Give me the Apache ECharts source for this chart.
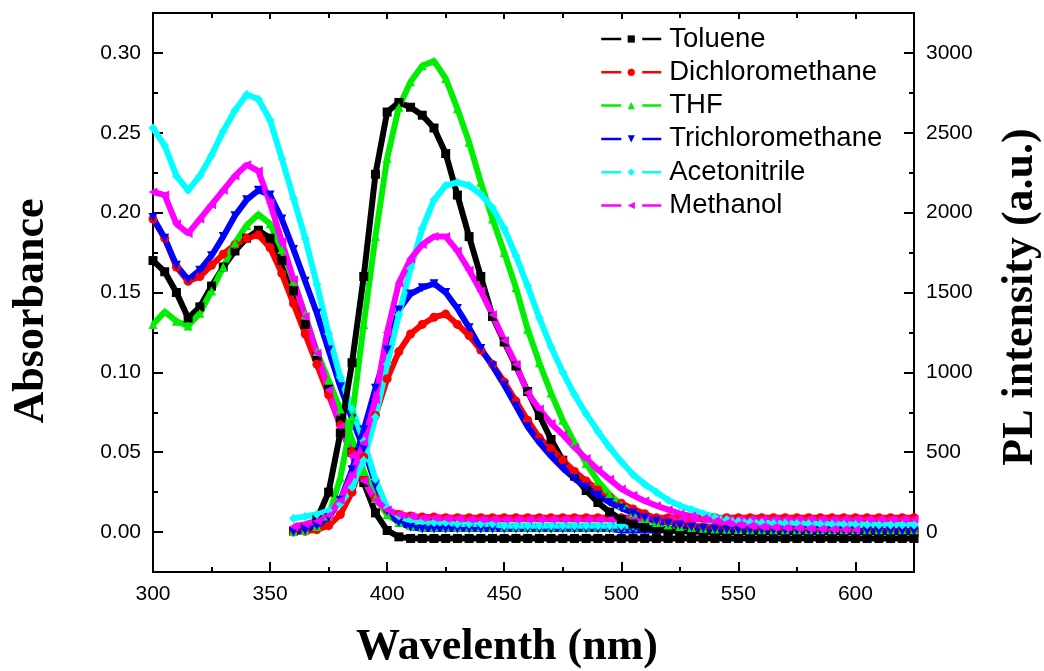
<!DOCTYPE html>
<html><head><meta charset="utf-8">
<script src="https://cdn.jsdelivr.net/npm/echarts@6/dist/echarts.min.js"></script>
<style>html,body{margin:0;padding:0;background:#fff}#c{width:1044px;height:671px}</style>
</head><body><div id="c"></div>
<script>
// ---------- data ----------
const solvents = ['Toluene','Dichloromethane','THF','Trichloromethane','Acetonitrile','Methanol'];

const absWl = [300,305,310,315,320,325,330,335,340,345,350,355,360,365,370,375,380,385,390,395,
  400,405,410,415,420,425,430,435,440,445,450,455,460,465,470,475,480,485,490,495,
  500,505,510,515,520,525,530,535,540,545,550,555,560,565,570,575,580,585,590,595,
  600,605,610,615,620,625];

const absToluene = [0.170,0.163,0.150,0.134,0.141,0.154,0.166,0.176,0.184,0.189,
  0.184,0.170,0.151,0.130,0.110,0.090,0.070,0.050,0.031,0.012,
  0.001,-0.003,-0.004,-0.004,-0.004,-0.004,-0.004,-0.004,-0.004,-0.004,
  -0.004,-0.004,-0.004,-0.004,-0.004,-0.004,-0.004,-0.004,-0.004,-0.004,
  -0.004,-0.004,-0.004,-0.004,-0.004,-0.004,-0.004,-0.004,-0.004,-0.004,
  -0.004,-0.004,-0.004,-0.004,-0.004,-0.004,-0.004,-0.004,-0.004,-0.004,
  -0.004,-0.004,-0.004,-0.004,-0.004,-0.004];
const absDCM = [0.196,0.184,0.166,0.157,0.160,0.167,0.174,0.180,0.184,0.186,
  0.178,0.162,0.143,0.124,0.105,0.086,0.067,0.050,0.034,0.021,
  0.014,0.011,0.010,0.0095,0.0095,0.009,0.009,0.009,0.009,0.009,
  0.009,0.009,0.009,0.009,0.009,0.009,0.009,0.009,0.009,0.009,
  0.009,0.009,0.009,0.009,0.009,0.009,0.009,0.009,0.009,0.009,
  0.009,0.009,0.009,0.009,0.009,0.009,0.009,0.009,0.009,0.009,
  0.009,0.009,0.009,0.009,0.009,0.009];
const absTHF = [0.130,0.138,0.132,0.129,0.137,0.151,0.166,0.181,0.192,0.199,
  0.193,0.177,0.157,0.136,0.113,0.095,0.077,0.058,0.038,0.021,
  0.011,0.006,0.004,0.003,0.003,0.003,0.003,0.003,0.003,0.003,
  0.003,0.003,0.003,0.003,0.003,0.003,0.003,0.003,0.003,0.003,
  0.003,0.003,0.003,0.003,0.003,0.003,0.003,0.003,0.003,0.003,
  0.003,0.003,0.003,0.003,0.003,0.003,0.003,0.003,0.003,0.003,
  0.003,0.003,0.003,0.003,0.003,0.003];
const absTCM = [0.197,0.184,0.167,0.158,0.164,0.173,0.185,0.198,0.208,0.214,
  0.211,0.196,0.177,0.157,0.137,0.114,0.091,0.071,0.052,0.030,
  0.013,0.006,0.003,0.002,0.002,0.002,0.002,0.002,0.002,0.002,
  0.002,0.002,0.002,0.002,0.002,0.002,0.002,0.002,0.002,0.002,
  0.001,0.001,0.001,0.001,0.001,0.001,0.001,0.001,0.001,0.001,
  0.001,0.001,0.001,0.001,0.001,0.001,0.001,0.001,0.001,0.001,
  0.001,0.001,0.001,0.001,0.001,0.001];
const absACN = [0.253,0.242,0.223,0.214,0.223,0.236,0.251,0.264,0.274,0.271,
  0.258,0.234,0.209,0.184,0.155,0.124,0.097,0.077,0.057,0.033,
  0.015,0.010,0.008,0.007,0.006,0.006,0.005,0.005,0.005,0.005,
  0.004,0.004,0.004,0.004,0.004,0.004,0.004,0.004,0.004,0.004,
  0.004,0.004,0.004,0.004,0.004,0.004,0.004,0.004,0.004,0.004,
  0.004,0.004,0.004,0.004,0.004,0.004,0.004,0.004,0.004,0.004,
  0.004,0.004,0.004,0.004,0.004,0.004];
const absMeOH = [0.213,0.211,0.193,0.187,0.196,0.205,0.214,0.223,0.230,0.226,
  0.206,0.182,0.158,0.135,0.112,0.089,0.066,0.048,0.032,0.020,
  0.014,0.011,0.010,0.009,0.009,0.0085,0.0085,0.008,0.008,0.008,
  0.008,0.008,0.008,0.008,0.008,0.008,0.008,0.008,0.008,0.008,
  0.008,0.008,0.008,0.008,0.008,0.008,0.008,0.008,0.008,0.008,
  0.008,0.008,0.008,0.008,0.008,0.008,0.008,0.008,0.008,0.008,
  0.008,0.008,0.008,0.008,0.008,0.008];

const plWl = [360,365,370,375,380,385,390,395,400,405,410,415,420,425,430,435,440,445,450,455,
  460,465,470,475,480,485,490,495,500,505,510,515,520,525,530,535,540,545,550,555,
  560,565,570,575,580,585,590,595,600,605,610,615,620,625];

const plToluene = [5,25,80,250,620,1060,1600,2240,2630,2690,
  2660,2610,2530,2370,2110,1850,1600,1350,1190,1040,
  880,730,580,450,350,260,185,125,80,50,
  30,18,10,5,3,2,0,0,0,0,
  0,0,0,0,0,0,0,0,0,0,
  0,0,0,0];
const plDCM = [0,5,15,40,110,250,470,730,960,1130,
  1240,1300,1345,1365,1300,1230,1140,1050,940,820,
  700,590,520,450,380,320,265,220,180,145,
  115,85,65,50,40,34,30,27,25,23,
  22,21,20,20,19,19,18,18,18,18,
  18,18,18,18];
const plTHF = [3,12,35,100,340,720,1300,1850,2340,2660,
  2820,2920,2950,2840,2650,2440,2190,1960,1750,1530,
  1270,1060,870,700,560,430,320,235,170,120,
  85,60,45,35,28,24,20,18,16,15,
  15,15,15,15,14,14,14,14,14,14,
  14,14,14,14];
const plTCM = [0,10,40,90,200,390,640,900,1140,1390,
  1490,1530,1555,1500,1400,1280,1150,1040,920,790,
  660,560,475,400,335,280,230,185,150,120,
  90,70,55,42,30,22,18,15,12,10,
  10,9,8,8,7,7,6,6,5,5,
  5,5,5,5];
const plACN = [85,98,110,135,175,280,450,720,1050,1360,
  1650,1900,2080,2170,2190,2170,2115,2030,1900,1730,
  1540,1340,1160,1000,860,740,630,530,440,360,
  300,250,200,165,140,115,95,78,68,62,
  58,56,55,53,52,50,49,48,47,46,
  45,45,44,44];
const plMeOH = [35,50,70,105,200,360,560,830,1250,1560,
  1710,1800,1850,1850,1760,1640,1510,1360,1200,1050,
  870,770,680,610,530,460,390,330,270,230,
  195,165,140,115,100,85,70,58,48,40,
  34,30,27,25,22,20,18,16,14];

const xMajor = [300,350,400,450,500,550,600];
const xMinor = [325,375,425,475,525,575];
const absMajor = [0,0.05,0.1,0.15,0.2,0.25,0.3];
const absMinor = [0.025,0.075,0.125,0.175,0.225,0.275];
const plMajor = [0,500,1000,1500,2000,2500,3000];
const plMinor = [250,750,1250,1750,2250,2750];

// ---------- style ----------
const colors = ['#000000','#ff0000','#00ee00','#0000ff','#00ffff','#ff00ff'];
const symbols = ['rect','circle','triangle','triangle','diamond','triangle'];
const rotations = [0,0,0,180,0,90];

const absSets = [absToluene,absDCM,absTHF,absTCM,absACN,absMeOH];
const plSets = [plToluene,plDCM,plTHF,plTCM,plACN,plMeOH];

const series = [];
function mk(name, i, wl, vals, yIdx) {
  return {
    name: name, type: 'line', xAxisIndex: 0, yAxisIndex: yIdx,
    data: vals.map((v, k) => [wl[k], v]),
    symbol: symbols[i], symbolSize: 9, symbolRotate: rotations[i],
    showSymbol: true, silent: true, animation: false,
    lineStyle: { color: colors[i], width: 6 },
    itemStyle: { color: colors[i], borderWidth: 0 },
    emphasis: { disabled: true }
  };
}
solvents.forEach((n, i) => series.push(mk(n, i, absWl, absSets[i], 0)));
solvents.forEach((n, i) => series.push(mk(n, i, plWl, plSets[i], 1)));

const axisLineStyle = { color: '#000', width: 2 };
const tickFont = { fontSize: 21, color: '#000', fontFamily: '"Liberation Sans", Arial, sans-serif' };

function xAx(pos, ticks, len, labels) {
  return {
    type: 'value', position: pos, min: 300, max: 625,
    axisLine: { show: true, onZero: false, lineStyle: axisLineStyle },
    axisTick: { show: true, inside: true, length: len, customValues: ticks, lineStyle: { color: '#000', width: 2 } },
    axisLabel: labels ? Object.assign({ show: true, customValues: ticks, margin: 12 }, tickFont) : { show: false },
    splitLine: { show: false }
  };
}
function yAx(pos, min, max, ticks, len, labels, fmt) {
  return {
    type: 'value', position: pos, min: min, max: max,
    axisLine: { show: true, onZero: false, lineStyle: axisLineStyle },
    axisTick: { show: true, inside: true, length: len, customValues: ticks, lineStyle: { color: '#000', width: 2 } },
    axisLabel: labels ? Object.assign({ show: true, customValues: ticks, margin: 12, formatter: fmt }, tickFont) : { show: false },
    splitLine: { show: false }
  };
}

const option = {
  backgroundColor: '#fff',
  animation: false,
  grid: { left: 153, right: 130, top: 13, bottom: 99, containLabel: false },
  xAxis: [
    xAx('bottom', xMajor, 10, true),
    xAx('bottom', xMinor, 5, false),
    xAx('top', xMajor, 6, false),
    xAx('top', xMinor, 5, false)
  ],
  yAxis: [
    yAx('left', -0.025, 0.325, absMajor, 10, true, v => v.toFixed(2)),
    yAx('right', -250, 3250, plMajor, 10, true, v => String(v)),
    yAx('left', -0.025, 0.325, absMinor, 5, false),
    yAx('right', -250, 3250, plMinor, 5, false)
  ],
  legend: {
    data: solvents, orient: 'vertical', left: 600, top: 25, padding: 0,
    itemWidth: 60, itemHeight: 9, itemGap: 5.3,
    lineStyle: { width: 2.5, type: [20, 21] },
    textStyle: { fontSize: 27.5, lineHeight: 28, color: '#000', fontFamily: '"Liberation Sans", Arial, sans-serif', padding: [0, 0, 0, 3] },
    selectedMode: false
  },
  graphic: [
    { type: 'text', x: 32, y: 311, rotation: Math.PI / 2,
      style: { text: 'Absorbance', font: 'bold 44px "Liberation Serif", "Times New Roman", serif', fill: '#000', align: 'center', verticalAlign: 'middle' } },
    { type: 'text', x: 1021, y: 297, rotation: Math.PI / 2,
      style: { text: 'PL intensity (a.u.)', font: 'bold 44px "Liberation Serif", "Times New Roman", serif', fill: '#000', align: 'center', verticalAlign: 'middle' } },
    { type: 'text', x: 507, y: 648,
      style: { text: 'Wavelenth (nm)', font: 'bold 44px "Liberation Serif", "Times New Roman", serif', fill: '#000', align: 'center', verticalAlign: 'middle' } }
  ],
  series: series
};

const chart = echarts.init(document.getElementById('c'), null, { renderer: 'canvas' });
chart.setOption(option);
</script>
</body></html>
